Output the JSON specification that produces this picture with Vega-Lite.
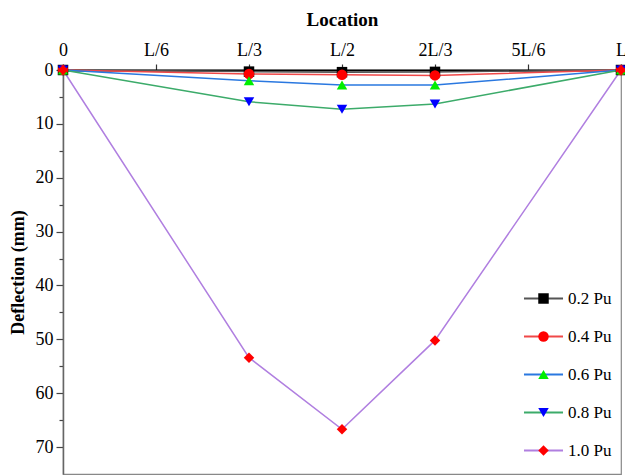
{
  "$schema": "https://vega.github.io/schema/vega-lite/v6.json",
  "autosize": {"type": "none"},
  "padding": {"left": 63, "top": 70, "right": 4, "bottom": 1},
  "width": 558,
  "height": 404,
  "background": "white",
  "config": {
    "font": "Liberation Serif",
    "view": {"stroke": "#888888", "strokeWidth": 1.2},
    "axis": {"grid": false, "labelFont": "Liberation Serif", "titleFont": "Liberation Serif", "labelColor": "black", "titleColor": "black"},
    "legend": {"labelFont": "Liberation Serif"}
  },
  "data": {"values": [
    {"x": 0, "d": 0, "load": "0.2 Pu"}, {"x": 2, "d": 0.3, "load": "0.2 Pu"}, {"x": 3, "d": 0.4, "load": "0.2 Pu"}, {"x": 4, "d": 0.35, "load": "0.2 Pu"}, {"x": 6, "d": 0, "load": "0.2 Pu"},
    {"x": 0, "d": 0, "load": "0.4 Pu"}, {"x": 2, "d": 0.75, "load": "0.4 Pu"}, {"x": 3, "d": 0.9, "load": "0.4 Pu"}, {"x": 4, "d": 1.0, "load": "0.4 Pu"}, {"x": 6, "d": 0, "load": "0.4 Pu"},
    {"x": 0, "d": 0, "load": "0.6 Pu"}, {"x": 2, "d": 2.0, "load": "0.6 Pu"}, {"x": 3, "d": 2.8, "load": "0.6 Pu"}, {"x": 4, "d": 2.8, "load": "0.6 Pu"}, {"x": 6, "d": 0, "load": "0.6 Pu"},
    {"x": 0, "d": 0, "load": "0.8 Pu"}, {"x": 2, "d": 5.9, "load": "0.8 Pu"}, {"x": 3, "d": 7.3, "load": "0.8 Pu"}, {"x": 4, "d": 6.3, "load": "0.8 Pu"}, {"x": 6, "d": 0, "load": "0.8 Pu"},
    {"x": 0, "d": 0, "load": "1.0 Pu"}, {"x": 2, "d": 53.4, "load": "1.0 Pu"}, {"x": 3, "d": 66.7, "load": "1.0 Pu"}, {"x": 4, "d": 50.2, "load": "1.0 Pu"}, {"x": 6, "d": 0, "load": "1.0 Pu"}
  ]},
  "transform": [{"calculate": "datum.load", "as": "series"}],
  "encoding": {
    "x": {"field": "x", "type": "quantitative",
      "scale": {"domain": [0, 6], "nice": false, "zero": false},
      "axis": {"orient": "top", "title": "Location", "values": [0, 1, 2, 3, 4, 5, 6],
        "labelExpr": "['0','L/6','L/3','L/2','2L/3','5L/6','L'][datum.value]",
        "labelFontSize": 18, "titleFontSize": 19, "titleFontWeight": "bold",
        "domainColor": "black", "domainWidth": 2, "tickColor": "#333", "tickWidth": 1.2, "tickSize": 6,
        "labelPadding": 5, "titlePadding": 12, "labelFlush": false}},
    "y": {"field": "d", "type": "quantitative",
      "scale": {"domain": [0, 75], "reverse": true, "nice": false},
      "axis": {"title": "Deflection (mm)", "values": [0, 5, 10, 15, 20, 25, 30, 35, 40, 45, 50, 55, 60, 65, 70],
        "labelExpr": "datum.value % 10 === 0 ? datum.label : ''",
        "tickSize": {"condition": {"test": "datum.value % 10 === 0", "value": 7}, "value": 4},
        "labelFontSize": 18, "titleFontSize": 18, "titleFontWeight": "bold",
        "domainColor": "#666", "domainWidth": 1.5, "tickColor": "#444", "tickWidth": 1.2,
        "labelPadding": 3, "titlePadding": 8}}
  },
  "layer": [
    {"mark": {"type": "line", "strokeWidth": 1.5},
      "encoding": {
        "stroke": {"field": "load", "type": "nominal",
          "scale": {"domain": ["0.2 Pu", "0.4 Pu", "0.6 Pu", "0.8 Pu", "1.0 Pu"], "range": ["#555555", "#f04848", "#2a78e0", "#3cab6a", "#b07fe0"]},
          "legend": {"orient": "none", "legendX": 472, "legendY": 220, "title": null, "symbolType": "M-3.72,0H3.72", "symbolSize": 110, "symbolStrokeWidth": 1.8,
            "labelFontSize": 17, "labelColor": "black", "labelOffset": 16, "rowPadding": 20, "padding": 0}}
      }},
    {"mark": {"type": "point", "filled": true, "size": 110, "opacity": 1},
      "encoding": {
        "shape": {"field": "series", "type": "nominal",
          "scale": {"range": ["square", "circle", "triangle-up", "triangle-down", "diamond"]},
          "legend": {"orient": "none", "legendX": 472, "legendY": 220, "title": null, "symbolSize": 110, "symbolOpacity": 1,
            "labelFontSize": 17, "labelOpacity": 0, "labelOffset": 16, "rowPadding": 20, "padding": 0}},
        "fill": {"field": "series", "type": "nominal",
          "scale": {"range": ["#000000", "#ff0000", "#00ee00", "#0000ff", "#ff0000"]},
          "legend": {"orient": "none", "legendX": 472, "legendY": 220, "title": null, "symbolSize": 110, "symbolOpacity": 1,
            "labelFontSize": 17, "labelOpacity": 0, "labelOffset": 16, "rowPadding": 20, "padding": 0}}
      }}
  ]
}
